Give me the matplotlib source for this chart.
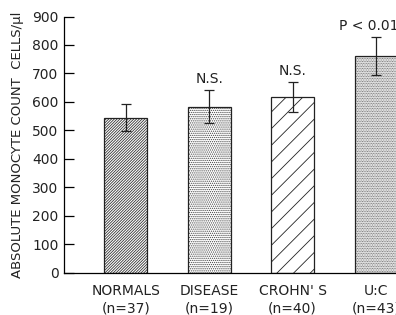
import matplotlib
matplotlib.use('Agg')
import matplotlib.pyplot as plt
import numpy as np

FNT = ['Liberation Sans Narrow', 'DejaVu Sans']
plt.rcParams['font.family'] = FNT
plt.rcParams['hatch.linewidth'] = 0.6

groups = ['NORMALS', 'DISEASE', "CROHN' S", 'U:C']
counts = ['(n=37)', '(n=19)', '(n=40)', '(n=43)']
means = [545, 583, 618, 762]
errs = [47, 58, 52, 67]
notes = ['', 'N.S.', 'N.S.', 'P < 0.01']
hatches = ['////////////', '........', '//', '..........']
hatch_cols = ['#333333', '#444444', '#222222', '#555555']
yticks = [0, 100, 200, 300, 400, 500, 600, 700, 800, 900]

fig = plt.figure(figsize=(3.96, 3.15), dpi=100)
ax = fig.add_axes([64/396, 42.3/315, 1 - 64/396, 256.2/315])

x = np.arange(len(groups))
for i in range(len(groups)):
    ax.bar(x[i], means[i], 0.515, color='white', edgecolor=hatch_cols[i],
           linewidth=0, hatch=hatches[i])
    ax.bar(x[i], means[i], 0.515, fill=False, edgecolor='#222222',
           linewidth=0.9)
    ax.errorbar(x[i], means[i], yerr=errs[i], color='#222222', lw=0.9,
                capsize=3.5, capthick=0.9)
    if notes[i]:
        dx = -7 if notes[i].startswith('P') else 0
        ax.annotate(notes[i], (x[i], means[i] + errs[i]), xytext=(dx, 4),
                    textcoords='offset pixels', ha='center', va='bottom',
                    fontsize=10, color='#222222')

ax.set_xlim(-0.742, 3.24)
ax.set_ylim(0, 900)
ax.set_yticks(yticks)
ax.set_yticklabels([str(t) for t in yticks], fontsize=10, color='#222222')
ax.set_xticks(x)
ax.set_xticklabels([g + '\n' + c for g, c in zip(groups, counts)],
                   fontsize=10, color='#222222', linespacing=1.3)
ax.tick_params(axis='y', direction='in', length=7, width=0.9, pad=4)
ax.tick_params(axis='x', length=0, pad=8)
ax.spines['top'].set_visible(False)
ax.spines['right'].set_visible(False)
ax.spines['left'].set_linewidth(0.9)
ax.spines['bottom'].set_linewidth(0.9)
ax.set_ylabel('ABSOLUTE MONOCYTE COUNT  CELLS/\u00b5l', fontsize=9.5,
              color='#222222', labelpad=6)

fig.savefig('out.png', dpi=100)
